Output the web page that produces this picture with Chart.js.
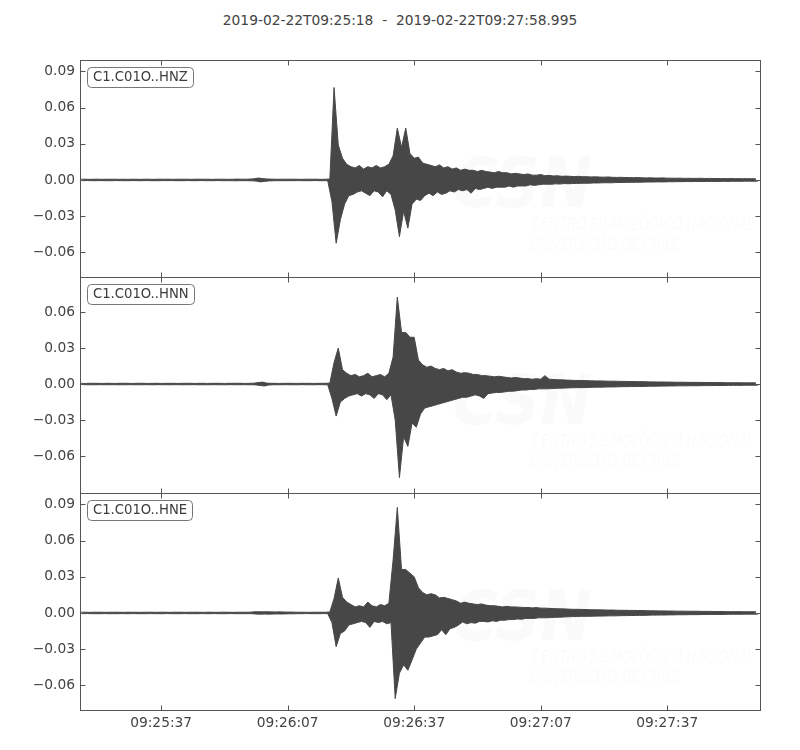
<!DOCTYPE html>
<html>
<head>
<meta charset="utf-8">
<script src="https://cdn.jsdelivr.net/npm/chart.js@4.4.1/dist/chart.umd.min.js"></script>
<style>
  body { margin:0; background:#fff; width:800px; height:750px; position:relative; overflow:hidden;
         font-family:"DejaVu Sans", sans-serif; color:#444; }
  .panel { position:absolute; left:0; width:800px; }
  #title { position:absolute; top:12px; left:0; width:800px; text-align:center; font-size:13.8px; line-height:16px; white-space:pre; }
</style>
</head>
<body>
<div id="title">2019-02-22T09:25:18  -  2019-02-22T09:27:58.995</div>
<div class="panel" style="top:58px;height:221px"><canvas id="cZ" width="800" height="221"></canvas></div>
<div class="panel" style="top:275px;height:220px"><canvas id="cN" width="800" height="220"></canvas></div>
<div class="panel" style="top:491px;height:259px"><canvas id="cE" width="800" height="259"></canvas></div>
<script>
// record starts 09:25:18, ends 09:27:58.995 ; envelopes read per 1 s bin
const startClock = 9*3600 + 25*60 + 18;
const endSec = 160.995;
const binStart = 0, binStep = 1;
const xTickSecs = [19, 49, 79, 109, 139];
const yTicksZ = [-0.06, -0.03, 0, 0.03, 0.06, 0.09];
const yTicksN = [-0.06, -0.03, 0, 0.03, 0.06];
const yTicksE = [-0.06, -0.03, 0, 0.03, 0.06, 0.09];

// HNZ upper / lower envelope
const hnzHi = [
 .0006,.0006,.0005,.0006,.0006,.0005,.0006,.0006,.0006,.0005,
 .0006,.0005,.0006,.0006,.0005,.0006,.0006,.0005,.0006,.0006,
 .0006,.0006,.0005,.0006,.0006,.0006,.0005,.0006,.0006,.0006,
 .0006,.0005,.0006,.0006,.0006,.0005,.0006,.0007,.0006,.0006,
 .0007,.0009,.0016,.0012,.0008,.0007,.0006,.0006,.0006,.0006,
 .0006,.0006,.0005,.0006,.0006,.0006,.0006,.0005,.0006,.0008,
 .0767,.029,.018,.013,.011,.010,.012,.009,.011,.010,
 .012,.010,.011,.013,.020,.043,.027,.043,.022,.018,
 .019,.014,.013,.012,.011,.0125,.010,.011,.009,.010,
 .008,.009,.008,.008,.007,.008,.007,.0065,.006,.007,
 .006,.006,.005,.0055,.005,.0045,.005,.004,.004,.0045,
 .0035,.0038,.0033,.0035,.003,.0032,.003,.0028,.003,.0027,
 .0027,.0025,.0026,.0024,.0023,.0025,.0022,.0021,.0022,.002,
 .002,.0019,.002,.0018,.0017,.0018,.0016,.0016,.0017,.0015,
 .0015,.0014,.0015,.0013,.0014,.0013,.0013,.0014,.0012,.0013,
 .0012,.0012,.0011,.0011,.0012,.0011,.0011,.001,.0011,.001,
 .001];
const hnzLo = [
 -.0006,-.0005,-.0006,-.0006,-.0005,-.0006,-.0006,-.0006,-.0005,-.0006,
 -.0006,-.0006,-.0005,-.0006,-.0006,-.0005,-.0006,-.0006,-.0006,-.0005,
 -.0006,-.0005,-.0006,-.0006,-.0006,-.0005,-.0006,-.0006,-.0005,-.0006,
 -.0006,-.0006,-.0005,-.0006,-.0006,-.0006,-.0007,-.0006,-.0006,-.0006,
 -.0007,-.0009,-.0016,-.0012,-.0008,-.0007,-.0006,-.0006,-.0006,-.0006,
 -.0006,-.0005,-.0006,-.0006,-.0006,-.0005,-.0006,-.0006,-.0006,-.018,
 -.0525,-.033,-.020,-.013,-.012,-.010,-.009,-.011,-.013,-.009,
 -.010,-.014,-.009,-.012,-.025,-.047,-.026,-.040,-.020,-.016,
 -.017,-.013,-.011,-.013,-.010,-.012,-.011,-.009,-.010,-.008,
 -.009,-.008,-.011,-.007,-.008,-.007,-.006,-.007,-.006,-.006,
 -.006,-.005,-.006,-.005,-.005,-.005,-.004,-.0045,-.004,-.0035,
 -.0035,-.0036,-.0032,-.0034,-.003,-.0031,-.003,-.0029,-.0028,-.0027,
 -.0027,-.0025,-.0025,-.0024,-.0023,-.0024,-.0022,-.0021,-.0021,-.002,
 -.002,-.0019,-.0019,-.0018,-.0017,-.0017,-.0016,-.0016,-.0016,-.0015,
 -.0015,-.0014,-.0014,-.0013,-.0014,-.0013,-.0013,-.0013,-.0012,-.0013,
 -.0012,-.0012,-.0011,-.0012,-.0011,-.0011,-.0011,-.001,-.001,-.0011,
 -.001];

// HNN upper / lower envelope
const hnnHi = [
 .0006,.0005,.0006,.0006,.0006,.0005,.0006,.0006,.0005,.0006,
 .0006,.0006,.0005,.0006,.0006,.0006,.0005,.0006,.0006,.0005,
 .0006,.0006,.0006,.0005,.0006,.0006,.0006,.0005,.0006,.0006,
 .0005,.0006,.0006,.0006,.0005,.0006,.0006,.0006,.0006,.0005,
 .0006,.0007,.0012,.0016,.0008,.0006,.0006,.0005,.0006,.0006,
 .0006,.0005,.0006,.0006,.0006,.0005,.0006,.0006,.0006,.0008,
 .018,.030,.012,.009,.007,.008,.006,.007,.009,.006,
 .007,.008,.006,.009,.0225,.0725,.043,.043,.039,.039,
 .020,.016,.014,.015,.013,.012,.013,.011,.012,.010,
 .009,.0095,.009,.008,.008,.007,.007,.0065,.006,.0065,
 .006,.0055,.005,.0055,.005,.0045,.0045,.004,.0045,.004,
 .007,.004,.0038,.0036,.0035,.0033,.0032,.003,.003,.0029,
 .0028,.0027,.0026,.0026,.0025,.0024,.0024,.0023,.0022,.0022,
 .0021,.0021,.002,.002,.0019,.0018,.0018,.0017,.0017,.0016,
 .0016,.0015,.0015,.0015,.0014,.0014,.0014,.0013,.0013,.0013,
 .0012,.0012,.0012,.0011,.0011,.0011,.0011,.001,.001,.001,
 .001];
const hnnLo = [
 -.0005,-.0006,-.0006,-.0006,-.0005,-.0006,-.0006,-.0005,-.0006,-.0006,
 -.0006,-.0005,-.0006,-.0006,-.0006,-.0005,-.0006,-.0006,-.0005,-.0006,
 -.0006,-.0006,-.0005,-.0006,-.0006,-.0006,-.0005,-.0006,-.0006,-.0006,
 -.0006,-.0005,-.0006,-.0006,-.0006,-.0005,-.0006,-.0006,-.0005,-.0006,
 -.0006,-.0007,-.0012,-.0016,-.0008,-.0006,-.0006,-.0006,-.0005,-.0006,
 -.0006,-.0006,-.0005,-.0006,-.0006,-.0006,-.0005,-.0006,-.0006,-.012,
 -.0267,-.015,-.012,-.010,-.009,-.008,-.010,-.008,-.009,-.012,
 -.008,-.009,-.013,-.009,-.030,-.078,-.044,-.052,-.0325,-.036,
 -.025,-.020,-.019,-.018,-.017,-.016,-.015,-.014,-.013,-.012,
 -.011,-.011,-.010,-.009,-.010,-.012,-.008,-.0075,-.007,-.007,
 -.0065,-.006,-.006,-.0055,-.005,-.005,-.0045,-.0045,-.004,-.004,
 -.004,-.0038,-.0036,-.0035,-.0034,-.0032,-.0031,-.003,-.003,-.0029,
 -.0028,-.0027,-.0026,-.0026,-.0025,-.0024,-.0024,-.0023,-.0022,-.0022,
 -.0021,-.0021,-.002,-.002,-.0019,-.0018,-.0018,-.0017,-.0017,-.0016,
 -.0016,-.0015,-.0015,-.0015,-.0014,-.0014,-.0014,-.0013,-.0013,-.0013,
 -.0012,-.0012,-.0012,-.0011,-.0011,-.0011,-.0011,-.001,-.001,-.001,
 -.001];

// HNE upper / lower envelope
const hneHi = [
 .0006,.0006,.0005,.0006,.0006,.0006,.0005,.0006,.0006,.0006,
 .0005,.0006,.0006,.0006,.0005,.0006,.0006,.0006,.0005,.0006,
 .0006,.0005,.0006,.0006,.0006,.0005,.0006,.0006,.0006,.0005,
 .0006,.0006,.0005,.0006,.0006,.0006,.0005,.0006,.0006,.0006,
 .0006,.0009,.001,.0009,.001,.0009,.0008,.0009,.0008,.0007,
 .0007,.0006,.0006,.0006,.0005,.0006,.0006,.0006,.0006,.0008,
 .012,.029,.013,.009,.007,.005,.006,.005,.009,.006,
 .005,.007,.006,.008,.044,.0875,.036,.036,.033,.030,
 .021,.017,.015,.016,.015,.0125,.013,.012,.011,.010,
 .008,.009,.008,.0075,.007,.0075,.0065,.006,.006,.0055,
 .005,.0055,.005,.005,.0048,.0045,.0046,.0042,.0045,.004,
 .004,.0038,.0036,.0035,.0034,.0033,.0031,.003,.003,.0029,
 .0028,.0027,.0026,.0026,.0025,.0024,.0024,.0023,.0022,.0022,
 .0021,.0021,.002,.002,.0019,.0018,.0018,.0017,.0017,.0016,
 .0016,.0015,.0015,.0015,.0014,.0014,.0014,.0013,.0013,.0013,
 .0012,.0012,.0012,.0011,.0011,.0011,.0011,.001,.001,.001,
 .001];
const hneLo = [
 -.0006,-.0005,-.0006,-.0006,-.0006,-.0005,-.0006,-.0006,-.0006,-.0005,
 -.0006,-.0006,-.0005,-.0006,-.0006,-.0006,-.0005,-.0006,-.0006,-.0006,
 -.0005,-.0006,-.0006,-.0006,-.0005,-.0006,-.0006,-.0006,-.0005,-.0006,
 -.0006,-.0005,-.0006,-.0006,-.0006,-.0005,-.0006,-.0006,-.0006,-.0006,
 -.0006,-.0009,-.001,-.0009,-.001,-.0009,-.0008,-.0009,-.0008,-.0007,
 -.0007,-.0006,-.0006,-.0005,-.0006,-.0006,-.0006,-.0005,-.0006,-.008,
 -.028,-.017,-.015,-.010,-.009,-.008,-.007,-.008,-.012,-.007,
 -.008,-.007,-.009,-.008,-.071,-.050,-.043,-.0475,-.039,-.030,
 -.025,-.020,-.020,-.019,-.018,-.014,-.018,-.013,-.012,-.010,
 -.0075,-.009,-.008,-.0085,-.007,-.007,-.0075,-.0065,-.007,-.006,
 -.006,-.0055,-.0055,-.005,-.0052,-.0045,-.0045,-.0045,-.004,-.004,
 -.004,-.0038,-.0036,-.0036,-.0033,-.0032,-.003,-.003,-.0028,-.0028,
 -.0028,-.0027,-.0026,-.0026,-.0025,-.0024,-.0024,-.0023,-.0022,-.0022,
 -.0021,-.0021,-.002,-.002,-.0019,-.0018,-.0018,-.0017,-.0017,-.0016,
 -.0016,-.0015,-.0015,-.0015,-.0014,-.0014,-.0014,-.0013,-.0013,-.0013,
 -.0012,-.0012,-.0012,-.0011,-.0011,-.0011,-.0011,-.001,-.001,-.001,
 -.001];

Chart.defaults.font.family = '"DejaVu Sans", sans-serif';
Chart.defaults.font.size = 13.8;
Chart.defaults.color = '#444';

const lineColor = '#474747';
const frameColor = '#555';

function clock(sec){
  const s = Math.round(startClock + sec);
  const p = n => String(n).padStart(2, '0');
  return p(Math.floor(s/3600)) + ':' + p(Math.floor(s/60)%60) + ':' + p(s%60);
}

// one point per bin; the lower envelope sits half a bin later so the edges stay jagged
function envelope(vals, shift){
  return vals.map((v, i) => ({x: binStart + i*binStep + shift, y: v}));
}

const framePlugin = {
  id: 'frame',
  afterDraw(chart, args, opts){
    const {ctx, chartArea: a, scales: {x, y}} = chart;
    const L = Math.round(a.left) - 0.5, R = Math.round(a.right) + 0.5;
    const T = Math.round(a.top) + 0.5, B = Math.round(a.bottom) + 0.5;
    ctx.save();
    ctx.strokeStyle = frameColor;
    ctx.lineWidth = 1;
    ctx.strokeRect(L, T, R - L, B - T);
    ctx.beginPath();
    xTickSecs.forEach(v => {
      const px = Math.round(x.getPixelForValue(v)) + 0.5;
      ctx.moveTo(px, T); ctx.lineTo(px, T + 5);
      ctx.moveTo(px, B); ctx.lineTo(px, B - 5);
    });
    opts.yTicks.forEach(v => {
      const py = Math.round(y.getPixelForValue(v)) + 0.5;
      ctx.moveTo(L, py); ctx.lineTo(L + 5, py);
      ctx.moveTo(R, py); ctx.lineTo(R - 5, py);
    });
    ctx.stroke();

    // station tag, top-left inside the frame
    const bx = Math.round(a.left) + 6.5, by = Math.round(a.top) + 7.5;
    ctx.font = '13.2px "DejaVu Sans"';
    const w = Math.round(ctx.measureText(opts.tag).width) + 11;
    ctx.beginPath();
    ctx.roundRect(bx, by, w, 20, 4);
    ctx.fillStyle = '#fff';
    ctx.fill();
    ctx.strokeStyle = '#777';
    ctx.stroke();
    ctx.fillStyle = '#3c3c3c';
    ctx.textBaseline = 'middle';
    ctx.fillText(opts.tag, bx + 5.5, by + 10.5);
    ctx.restore();
  }
};

const watermarkPlugin = {
  id: 'watermark',
  beforeDatasetsDraw(chart){
    const {ctx, chartArea: a} = chart;
    ctx.save();
    ctx.fillStyle = 'rgba(0,0,0,0.018)';
    ctx.font = 'italic bold 70px "DejaVu Sans"';
    ctx.fillText('CSN', 452, a.top + 147, 140);
    ctx.font = 'italic 17px "DejaVu Sans"';
    ctx.fillText('CENTRO SISMOLÓGICO NACIONAL', 532, a.top + 170, 222);
    ctx.fillText('UNIVERSIDAD DE CHILE', 530, a.top + 190, 150);
    ctx.restore();
  }
};

function makePanel(id, tag, hi, lo, yMin, yMax, yTicks, showX){
  return new Chart(document.getElementById(id), {
    type: 'line',
    data: { datasets: [
      { data: envelope(hi, 0), borderColor: lineColor, borderWidth: 1,
        pointRadius: 0, tension: 0, fill: false },
      { data: envelope(lo, binStep/2), borderColor: lineColor, borderWidth: 1,
        backgroundColor: lineColor, pointRadius: 0, tension: 0, fill: '-1' }
    ]},
    options: {
      responsive: false, animation: false, events: [],
      layout: { padding: { top: 2, bottom: showX ? 0 : 2, left: 0, right: 40 } },
      plugins: { legend: {display: false}, tooltip: {enabled: false}, frame: { yTicks, tag } },
      scales: {
        x: {
          type: 'linear', min: 0, max: endSec, display: showX,
          grid: { display: false, drawTicks: false }, border: { display: false },
          afterBuildTicks: s => { s.ticks = xTickSecs.map(v => ({value: v})); },
          afterFit: s => { if (showX) s.height = 40; s.paddingLeft = 0; s.paddingRight = 0; },
          ticks: { padding: 5, maxRotation: 0, autoSkip: false, callback: v => clock(v) }
        },
        y: {
          min: yMin, max: yMax,
          grid: { display: false, drawTicks: false }, border: { display: false },
          afterBuildTicks: s => { s.ticks = yTicks.map(v => ({value: v})); },
          afterFit: s => { s.width = 81; s.paddingTop = 0; s.paddingBottom = 0; },
          ticks: { padding: 6, autoSkip: false,
                   callback: v => Number(v).toFixed(2).replace('-', '\u2212').replace('\u22120.00', '0.00') }
        }
      }
    },
    plugins: [watermarkPlugin, framePlugin]
  });
}

makePanel('cZ', 'C1.C01O..HNZ', hnzHi, hnzLo, -0.0805, 0.0995, yTicksZ, false);
makePanel('cN', 'C1.C01O..HNN', hnnHi, hnnLo, -0.0908, 0.0892, yTicksN, false);
makePanel('cE', 'C1.C01O..HNE', hneHi, hneLo, -0.0805, 0.0995, yTicksE, true);
</script>
</body>
</html>
